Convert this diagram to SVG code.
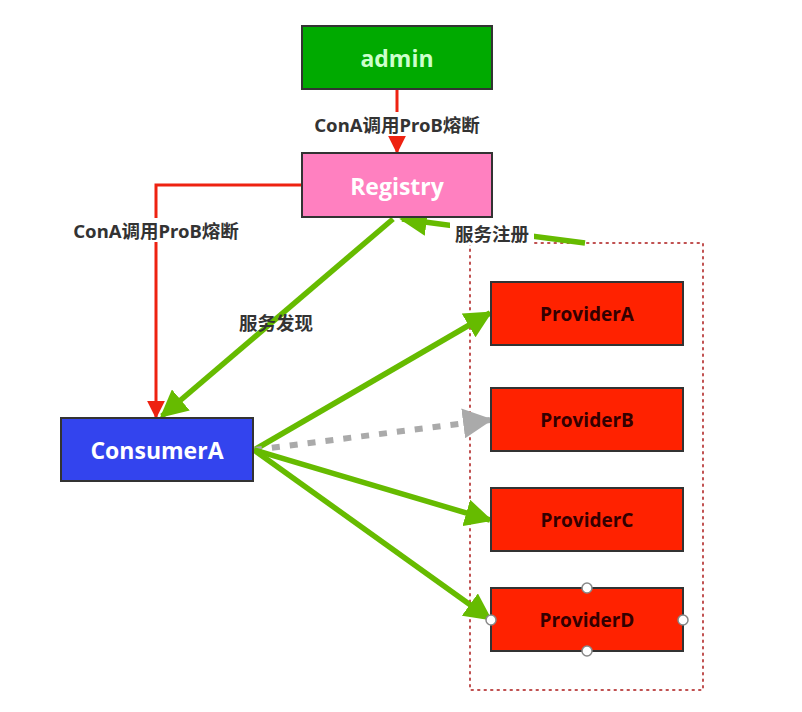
<svg xmlns="http://www.w3.org/2000/svg" width="802" height="712" viewBox="0 0 802 712">
<style>
.node{stroke:#333;stroke-width:2}
.t{font-family:"Open Sans","Noto Sans","Noto Sans CJK SC",sans-serif;font-weight:bold;font-size:23px;text-anchor:middle;dominant-baseline:central}
.p{font-size:19px;fill:#330000}
.lbl{font-family:"Noto Sans","Noto Sans CJK SC",sans-serif;font-weight:bold;font-size:18.5px;fill:#333;text-anchor:middle;dominant-baseline:central}
.g{stroke:#66bb00;stroke-width:5.5;fill:none}
.r{stroke:#ee2211;stroke-width:3;fill:none}
.h{fill:#fff;stroke:#888;stroke-width:1.5}
</style>
<defs>
<marker id="ag" viewBox="0 0 10 10" refX="9" refY="5" markerWidth="5" markerHeight="5" orient="auto" markerUnits="strokeWidth"><path d="M0,0 L10,5 L0,10 z" fill="#66bb00"/></marker>
<marker id="ar" viewBox="0 0 10 10" refX="9" refY="5" markerWidth="6" markerHeight="6" orient="auto" markerUnits="strokeWidth"><path d="M0,0 L10,5 L0,10 z" fill="#ee2211"/></marker>
<marker id="ay" viewBox="0 0 10 10" refX="9" refY="5" markerWidth="5" markerHeight="5" orient="auto" markerUnits="strokeWidth"><path d="M0,0 L10,5 L0,10 z" fill="#aaaaaa"/></marker>
</defs>
<rect width="802" height="712" fill="#fff"/>
<rect x="470" y="243" width="233" height="447" fill="none" stroke="#c05050" stroke-width="2" stroke-dasharray="1.5 5" stroke-linecap="round"/>
<g id="connectors">
<line class="r" x1="397" y1="90" x2="397" y2="152" marker-end="url(#ar)"/>
<polyline class="r" points="302,185 156,185 156,417" marker-end="url(#ar)"/>
<line class="g" x1="393" y1="219" x2="162" y2="416" marker-end="url(#ag)"/>
<line class="g" x1="585" y1="243" x2="402" y2="219" marker-end="url(#ag)"/>
<line class="g" x1="254" y1="450" x2="490" y2="313" marker-end="url(#ag)"/>
<line x1="254" y1="450" x2="490" y2="420" stroke="#aaaaaa" stroke-width="6" stroke-dasharray="8 10" marker-end="url(#ay)"/>
<line class="g" x1="254" y1="450" x2="490" y2="520" marker-end="url(#ag)"/>
<line class="g" x1="254" y1="450" x2="490" y2="619" marker-end="url(#ag)"/>
<rect x="378" y="112" width="40" height="24" fill="#fff"/>
<text class="lbl" x="397" y="124">ConA调用ProB熔断</text>
<rect x="140" y="218" width="30" height="24" fill="#fff"/>
<text class="lbl" x="156" y="230">ConA调用ProB熔断</text>
<text class="lbl" x="276" y="322">服务发现</text>
<rect x="450" y="221" width="84" height="24" fill="#fff"/>
<text class="lbl" x="492" y="233">服务注册</text>
</g>
<g id="admin"><rect class="node" x="302" y="26" width="190" height="63" fill="#00aa00"/><text class="t" x="397" y="58" fill="#ccffcc">admin</text></g>
<g id="registry"><rect class="node" x="302" y="153" width="190" height="64" fill="#ff80c0"/><text class="t" x="397" y="186" fill="#ffffff">Registry</text></g>
<g id="consumerA"><rect class="node" x="61" y="418" width="192" height="63" fill="#3344ee"/><text class="t" x="157" y="450" fill="#ffffff">ConsumerA</text></g>
<g id="providerA"><rect class="node" x="491" y="282" width="192" height="63" fill="#ff2200"/><text class="t p" x="587" y="314">ProviderA</text></g>
<g id="providerB"><rect class="node" x="491" y="388" width="192" height="63" fill="#ff2200"/><text class="t p" x="587" y="420">ProviderB</text></g>
<g id="providerC"><rect class="node" x="491" y="488" width="192" height="63" fill="#ff2200"/><text class="t p" x="587" y="520">ProviderC</text></g>
<g id="providerD"><rect class="node" x="491" y="588" width="192" height="63" fill="#ff2200"/><text class="t p" x="587" y="620">ProviderD</text>
<circle class="h" cx="587" cy="588" r="5"/><circle class="h" cx="587" cy="651" r="5"/><circle class="h" cx="491" cy="620" r="5"/><circle class="h" cx="683" cy="620" r="5"/></g>
</svg>
